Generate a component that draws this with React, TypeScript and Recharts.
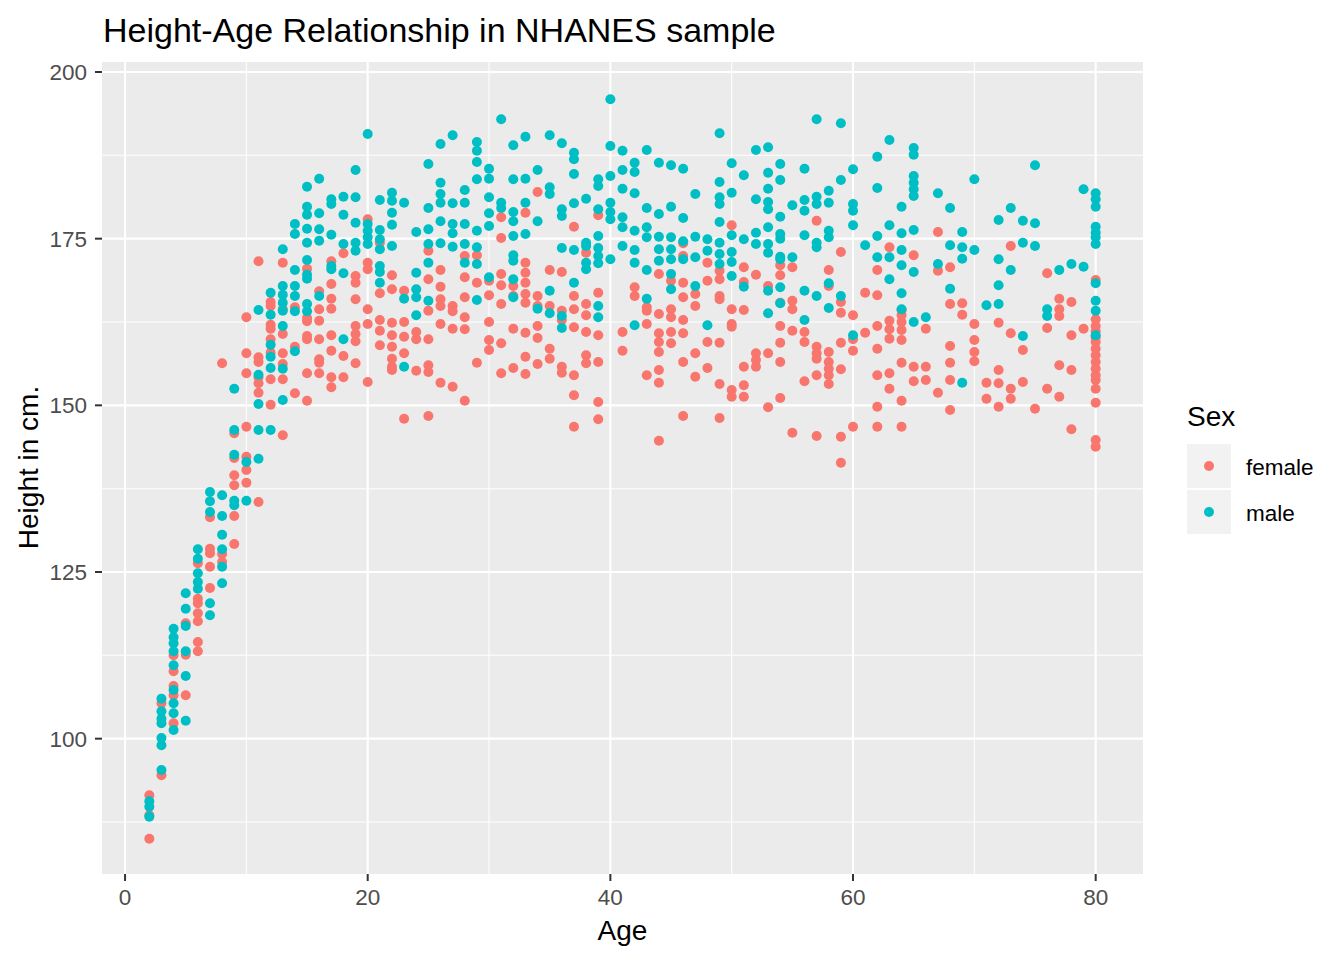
import React from 'react';
import { ScatterChart, Scatter, XAxis, YAxis, CartesianGrid } from 'recharts';

// NHANES sample: [age, heights at that age]
const femaleRows: [number, number[]][] = [
  [2, [91.5, 88.5, 85]],
  [3, [105.3, 94.5]],
  [4, [112.5, 110.1, 107.9, 106.5, 102.3]],
  [5, [117.3, 112.6, 106.5]],
  [6, [126.3, 121, 120.3, 118.8, 117.6, 114.5, 113.1]],
  [7, [133.2, 128.5, 127.8, 125.8, 122.6]],
  [8, [156.3, 127.7, 126.5]],
  [9, [145.8, 142.1, 139.5, 138, 133.4, 129.2]],
  [10, [163.2, 157.8, 154.8, 146.8, 142.3, 140.3, 138.4]],
  [11, [171.6, 157.2, 156.5, 154.2, 153.3, 151.9, 135.5]],
  [12, [165.5, 164.9, 162.1, 161.5, 159.9, 157.9, 153.9, 150.1]],
  [13, [171.4, 164.4, 160.7, 157.8, 156.2, 153.9, 145.5]],
  [14, [164.7, 158.8, 151.8]],
  [15, [170.5, 163.1, 162.6, 160.4, 159.9, 154.8, 150.7]],
  [16, [167.1, 164.4, 162.7, 159.9, 156.9, 156.4, 154.8]],
  [17, [171.6, 168.2, 166, 164.5, 160.5, 158.2, 154.2, 152.7]],
  [18, [172.8, 157.4, 154.2]],
  [19, [169.4, 168.4, 165.9, 161.9, 160.7, 159.6, 156.3]],
  [20, [177.9, 171.4, 170.4, 164.4, 162.2, 153.5]],
  [21, [174.4, 166.8, 162.8, 161.2, 159]],
  [22, [169.5, 167.4, 162.4, 160.5, 158.8, 157, 155.8, 155.3]],
  [23, [167.2, 162.5, 160.3, 157.8, 148]],
  [24, [161, 159.9, 155.2]],
  [25, [173.2, 168.9, 164.2, 159.9, 156, 155, 148.4]],
  [26, [170.3, 167.8, 165.9, 164.9, 162.2, 153.4]],
  [27, [164.9, 164.1, 161.5, 152.8]],
  [28, [172.4, 169.2, 166.2, 163.2, 161.4, 150.7]],
  [29, [172.5, 168.4, 156.4]],
  [30, [168.7, 166.5, 162.5, 159.8, 158.3]],
  [31, [178.2, 175.1, 169.7, 168, 165.2, 159.3, 154.8]],
  [32, [167.9, 166.4, 161.5, 155.6]],
  [33, [178.9, 171.4, 169.9, 168.4, 166.7, 165.4, 160.9, 157.3, 154.7]],
  [34, [182, 166.4, 164.9, 161.9, 160.1, 156.2]],
  [35, [170.3, 164.9, 158.5, 157]],
  [36, [170, 164.2, 162.8, 155.8, 154.9]],
  [37, [176.8, 166.4, 164.4, 161.7, 154.5, 151.5, 146.8]],
  [38, [172.9, 165.2, 163.5, 161, 157.5, 156.3]],
  [39, [178.5, 166.9, 160.5, 156.5, 150.5, 147.9]],
  [41, [161, 158.2]],
  [42, [167.7, 166.4]],
  [43, [164.7, 164.2, 162.2, 154.5]],
  [44, [169.7, 163.7, 160.8, 159.5, 158, 155.3, 153.4, 144.7]],
  [45, [168.7, 164.4, 163.2, 161, 159.3]],
  [46, [174.3, 172.4, 168.4, 166.2, 162.8, 160.8, 156.5, 148.4]],
  [47, [166.7, 164.9, 157.8, 154.3]],
  [48, [171.4, 168.7, 159.5, 155.6]],
  [49, [170.2, 168.9, 166.4, 165.9, 159.4, 153.2, 148.1]],
  [50, [177, 164.4, 162.2, 161.8, 152.3, 151.3]],
  [51, [170.7, 168.5, 164.3, 155.8, 153, 151.3]],
  [52, [169.6, 157.8, 156.8, 155.8]],
  [53, [167.9, 157.8, 149.7]],
  [54, [171, 169.5, 165.4, 161.9, 159.4, 156.5, 151.1]],
  [55, [170.7, 165.7, 164.4, 161.2, 145.9]],
  [56, [161, 159.5, 153.6]],
  [57, [177.7, 158.8, 157.8, 157, 154.5, 145.4]],
  [58, [170.3, 167.9, 158, 156.5, 155.5, 154.5, 153.2]],
  [59, [173, 165.5, 163.9, 159.4, 155.4, 145.3, 141.4]],
  [60, [163.5, 159.9, 158.2, 146.8]],
  [61, [166.9, 160.9]],
  [62, [170.3, 166.5, 161.9, 158.5, 154.5, 149.8, 146.8]],
  [63, [173.7, 162.7, 161.4, 160, 154.8, 152.5]],
  [64, [164.3, 163.5, 162.5, 161.3, 159.8, 156.4, 150.7, 146.8]],
  [65, [172.5, 155.8, 153.6]],
  [66, [161.5, 155.8, 153.8]],
  [67, [176, 170.2, 151.9]],
  [68, [170.7, 165.2, 158.9, 156.4, 153.8, 149.3]],
  [69, [165.3, 163.6]],
  [70, [162.2, 159.8, 158, 156.6]],
  [71, [153.4, 151]],
  [72, [162.4, 155.3, 153.3, 149.8]],
  [73, [173.9, 160.8, 152.5, 151]],
  [74, [158.3, 153.5]],
  [75, [149.5]],
  [76, [169.8, 161.6, 152.5]],
  [77, [166, 164.4, 163.4, 156, 151.3]],
  [78, [165.5, 160.5, 155.3, 146.4]],
  [79, [161.5]],
  [80, [168.8, 162.9, 161.9, 161.1, 160.2, 159.5, 158.5, 157.5, 156.5, 155.5, 154.5, 153.8, 152.5, 150.4, 144.8, 143.8]],
];

const maleRows: [number, number[]][] = [
  [2, [90.6, 89.8, 88.3]],
  [3, [106, 104.1, 103, 102.3, 100.1, 99, 95.3]],
  [4, [116.5, 115.2, 114.3, 113.1, 111, 107.3, 105.3, 103.8, 101.3]],
  [5, [121.8, 119.5, 116.9, 113.1, 109.4, 102.7]],
  [6, [128.4, 127, 124.8, 123.5, 122.5]],
  [7, [137, 135.6, 134, 120.3, 118.5]],
  [8, [136.5, 133.4, 130.6, 128.4, 125.8, 123.3]],
  [9, [152.5, 146.3, 142.6, 135.7, 135]],
  [10, [141.5, 135.7]],
  [11, [164.3, 154.6, 150.2, 146.3, 142]],
  [12, [166.9, 163.6, 159.1, 157.3, 155.6, 146.3]],
  [13, [173.4, 167.9, 166.6, 165.4, 164.2, 161.9, 155.5, 150.8]],
  [14, [177.2, 175.7, 170.3, 167.9, 166.4, 164.1, 158.1]],
  [15, [182.8, 179.8, 178.6, 176.5, 174.4, 171.8, 169.6, 169, 165.2, 164.1]],
  [16, [184, 178.8, 176.4, 174.7, 166.4]],
  [17, [180.9, 180.2, 175.6, 170.9, 170.4]],
  [18, [181.3, 178.6, 174.2, 169.8, 159.9]],
  [19, [185.3, 181.2, 177.4, 174.4, 173.2]],
  [20, [190.7, 177.2, 176.2, 175.2, 174.2]],
  [21, [180.8, 176.3, 174.9, 173.4, 170.9, 170, 168.4]],
  [22, [181.9, 180.7, 178.9, 177.1, 173.9]],
  [23, [180.4, 166, 155.8]],
  [24, [176, 169.9, 167.4, 166.2, 163.5]],
  [25, [186.2, 179.6, 176.4, 174.2, 171.4, 165.7]],
  [26, [189.2, 183.4, 181.7, 180.4, 177.6, 174.3]],
  [27, [190.5, 180.3, 177.2, 175.8, 173.8]],
  [28, [182.3, 180.4, 177.2, 174.2, 171.4]],
  [29, [189.5, 188.2, 186.5, 183.9, 176.2, 173.7, 171.2, 165.8]],
  [30, [185.5, 184, 181.2, 178.8, 176.9, 169.2]],
  [31, [192.9, 180.4, 179.6]],
  [32, [189, 183.9, 179, 177.6, 175.4, 172.5, 171.7, 168.9, 166.2]],
  [33, [190.3, 184, 180.4, 175.7]],
  [34, [185.3, 177.6, 164.5]],
  [35, [190.5, 182.7, 181.7, 167.2, 163.8]],
  [36, [189.3, 179.4, 178.4, 173.6, 163.4, 161.6]],
  [37, [187.9, 186.9, 184.7, 180.3, 173.3, 168.4]],
  [38, [181, 174.4, 173.9, 171.4, 170.4]],
  [39, [183.9, 182.9, 179.4, 175.4, 173.6, 172.4, 171.3, 164.9, 163.2]],
  [40, [195.9, 188.9, 184.4, 180.4, 179, 177.9, 171.9]],
  [41, [188.2, 185.3, 182.5, 178.2, 176.7, 173.9]],
  [42, [186.4, 185, 181.8, 176.2, 173.3, 171.4, 162]],
  [43, [188.3, 179.6, 176.7, 175.2, 170.3, 166]],
  [44, [186.4, 178.7, 175.3, 173.4, 171.7]],
  [45, [186, 179.8, 175.2, 173.4, 171.9, 169.7, 167.4]],
  [46, [185.5, 178.1, 174.6, 171.9]],
  [47, [181.7, 175.3, 172.2, 167.9]],
  [48, [174.9, 173.2, 162]],
  [49, [190.8, 183.5, 181.2, 180.2, 177.5, 174.4, 172.7, 171.2]],
  [50, [186.3, 181.9, 175.5, 173, 171.5, 169.4]],
  [51, [184.5, 174.9, 167.8]],
  [52, [188.3, 180.9, 175.9, 174.2]],
  [53, [188.7, 184.9, 182.5, 180.5, 179.4, 176.7, 174.2, 172.9, 167.2, 163.8]],
  [54, [186.2, 183.8, 178.3, 175.7, 175, 172.3, 171.9, 167.7, 165.3]],
  [55, [180, 172.2]],
  [56, [185.5, 180.8, 179.2, 175.5, 167.2, 162.8]],
  [57, [192.9, 181.3, 180.2, 174.4, 173.7, 166.4]],
  [58, [182.2, 180.4, 176.2, 175.2, 168.3, 164.6]],
  [59, [192.3, 183.8, 166.4]],
  [60, [185.4, 180.2, 179.2, 177, 160.5]],
  [61, [174]],
  [62, [187.3, 182.6, 175.4, 172.2]],
  [63, [189.8, 177, 172.2, 168.9]],
  [64, [179.8, 175.8, 173.3, 171, 166.8, 164.4]],
  [65, [188.6, 187.6, 184.4, 183.4, 182.4, 181.4, 176.3, 170, 162.5]],
  [66, [163.2]],
  [67, [181.8, 171.2]],
  [68, [179.6, 174, 167.5]],
  [69, [176, 173.7, 172, 153.4]],
  [70, [183.9, 173.3]],
  [71, [165]],
  [72, [177.8, 171.9, 168, 165.2]],
  [73, [179.6, 170.3]],
  [74, [177.7, 174.4, 160.4]],
  [75, [186, 177.3, 173.9]],
  [76, [164.4, 163.4]],
  [77, [170.3]],
  [78, [171.2]],
  [79, [182.4, 170.8]],
  [80, [181.8, 180.9, 179.8, 176.8, 175.9, 175.2, 174.2, 168.3, 165.7, 164.2, 160.5]],
];

const ageTicks = [0, 20, 40, 60, 80];
const ageMinorTicks = [10, 30, 50, 70];
const heightTicks = [100, 125, 150, 175, 200];
const heightMinorTicks = [87.5, 112.5, 137.5, 162.5, 187.5];

const FEMALE = '#F8766D';
const MALE = '#00BFC4';
const FONT = '"Liberation Sans", Arial, sans-serif';
const R = 5;

const flatten = (rows: [number, number[]][]) =>
  rows.flatMap(([age, hs]) => hs.map((height) => ({ age, height })));

const femaleData = flatten(femaleRows);
const maleData = flatten(maleRows);

const dot = (color: string) => (props: any) => (
  <circle cx={props.cx} cy={props.cy} r={R} fill={color} />
);

const tickStyle = { fill: '#4D4D4D', fontSize: 22.5, fontFamily: FONT };

export default function App() {
  return (
    <div style={{ position: 'absolute', left: 0, top: 0, width: 1344, height: 960, background: '#fff' }}>
      <ScatterChart width={1344} height={960} margin={{ top: 62, right: 201, bottom: 56, left: 42 }}>
        <CartesianGrid
          fill="#EBEBEB"
          fillOpacity={1}
          stroke="#FFFFFF"
          strokeWidth={1.05}
          verticalValues={ageMinorTicks}
          horizontalValues={heightMinorTicks}
        />
        <CartesianGrid
          stroke="#FFFFFF"
          strokeWidth={2.1}
          verticalValues={ageTicks}
          horizontalValues={heightTicks}
        />
        <XAxis
          type="number"
          dataKey="age"
          domain={[-1.9, 83.9]}
          ticks={ageTicks}
          allowDataOverflow
          height={30}
          axisLine={false}
          tickLine={{ stroke: '#333333', strokeWidth: 2 }}
          tickSize={7}
          tickMargin={8}
          tick={tickStyle}
        />
        <YAxis
          type="number"
          dataKey="height"
          domain={[79.7, 201.5]}
          ticks={heightTicks}
          allowDataOverflow
          width={60}
          axisLine={false}
          tickLine={{ stroke: '#333333', strokeWidth: 2 }}
          tickSize={7}
          tickMargin={8}
          tick={tickStyle}
        />
        <Scatter data={femaleData} fill={FEMALE} shape={dot(FEMALE)} isAnimationActive={false} />
        <Scatter data={maleData} fill={MALE} shape={dot(MALE)} isAnimationActive={false} />
      </ScatterChart>
      <svg
        width={1344}
        height={960}
        style={{ position: 'absolute', left: 0, top: 0, pointerEvents: 'none' }}
        fontFamily={FONT}
      >
        <text x={103} y={41.5} fontSize={34} fill="#000">
          Height-Age Relationship in NHANES sample
        </text>
        <text x={622.5} y={940} fontSize={28} fill="#000" textAnchor="middle">
          Age
        </text>
        <text transform="translate(38,467.5) rotate(-90)" fontSize={28} fill="#000" textAnchor="middle">
          Height in cm.
        </text>
        <text x={1187} y={426} fontSize={28} fill="#000">
          Sex
        </text>
        <rect x={1187} y={444} width={44} height={44} fill="#F2F2F2" />
        <rect x={1187} y={490} width={44} height={44} fill="#F2F2F2" />
        <circle cx={1209} cy={466} r={R} fill={FEMALE} />
        <circle cx={1209} cy={512} r={R} fill={MALE} />
        <text x={1246} y={475} fontSize={22.5} fill="#000">
          female
        </text>
        <text x={1246} y={521} fontSize={22.5} fill="#000">
          male
        </text>
      </svg>
    </div>
  );
}
